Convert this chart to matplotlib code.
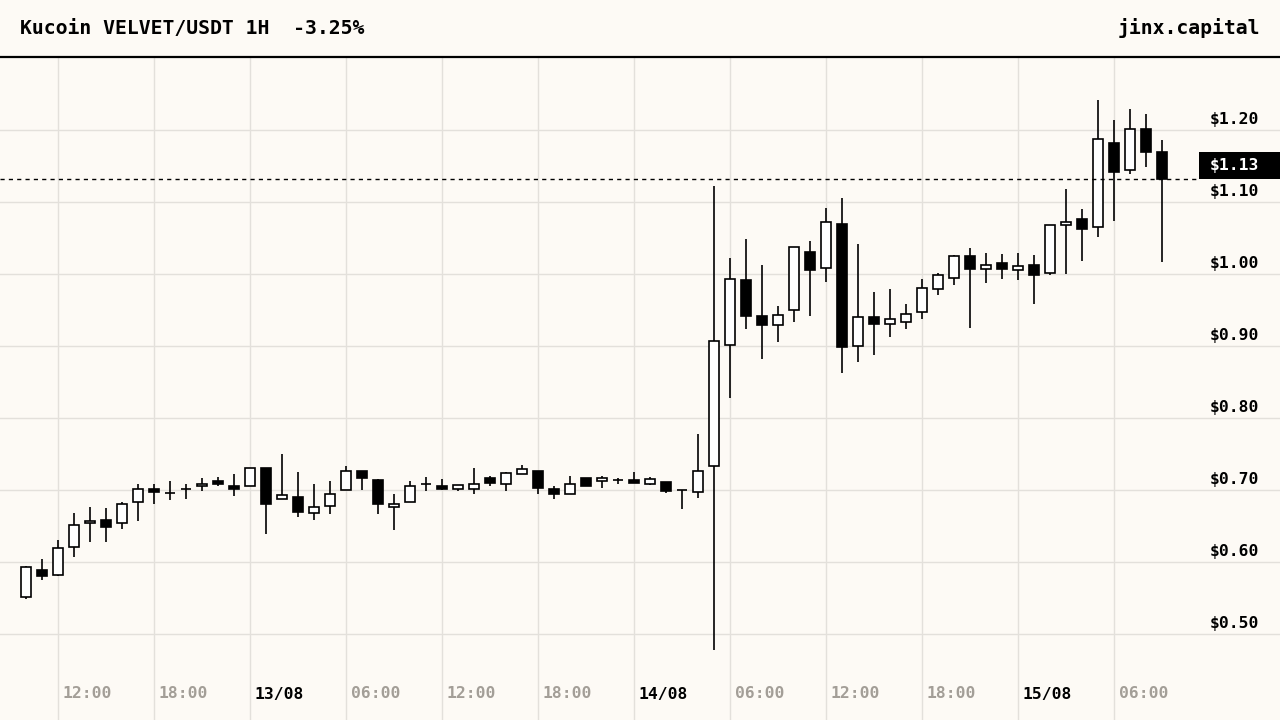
import matplotlib.pyplot as plt
import matplotlib.transforms as mtransforms
from matplotlib.patches import Rectangle
import pandas as pd

# hourly candles, Kucoin VELVET/USDT
start = "2024-08-12 10:00"
opens = [0.551, 0.589, 0.582, 0.621, 0.654, 0.658, 0.654, 0.683, 0.702, 0.6953,
         0.7009, 0.705, 0.712, 0.705, 0.705, 0.730, 0.688, 0.690, 0.668, 0.678,
         0.700, 0.726, 0.714, 0.676, 0.683, 0.7083, 0.705, 0.702, 0.702, 0.716,
         0.709, 0.722, 0.727, 0.702, 0.695, 0.716, 0.712, 0.7134, 0.7134, 0.708,
         0.711, 0.6995, 0.697, 0.734, 0.901, 0.991, 0.941, 0.929, 0.950, 1.031,
         1.008, 1.070, 0.8995, 0.940, 0.930, 0.934, 0.947, 0.979, 0.995, 1.0245,
         1.0065, 1.015, 1.006, 1.012, 1.001, 1.0676, 1.076, 1.065, 1.182, 1.144,
         1.201, 1.1695]
highs = [0.594, 0.604, 0.631, 0.668, 0.676, 0.675, 0.683, 0.708, 0.709, 0.712,
         0.708, 0.717, 0.718, 0.722, 0.731, 0.731, 0.750, 0.725, 0.708, 0.712,
         0.733, 0.726, 0.715, 0.694, 0.712, 0.718, 0.715, 0.7065, 0.731, 0.719,
         0.7245, 0.735, 0.727, 0.705, 0.720, 0.716, 0.720, 0.716, 0.7245, 0.718,
         0.711, 0.6995, 0.778, 1.122, 1.022, 1.049, 1.0125, 0.956, 1.037, 1.046,
         1.091, 1.105, 1.042, 0.9745, 0.979, 0.958, 0.993, 1.001, 1.026, 1.036,
         1.029, 1.028, 1.029, 1.026, 1.068, 1.118, 1.090, 1.242, 1.214, 1.229,
         1.222, 1.186]
lows = [0.549, 0.575, 0.581, 0.607, 0.628, 0.628, 0.646, 0.657, 0.680, 0.6865,
        0.688, 0.699, 0.706, 0.692, 0.705, 0.639, 0.687, 0.663, 0.659, 0.667,
        0.700, 0.700, 0.667, 0.645, 0.683, 0.698, 0.700, 0.698, 0.695, 0.705,
        0.699, 0.722, 0.695, 0.688, 0.695, 0.706, 0.703, 0.709, 0.710, 0.7065,
        0.696, 0.674, 0.689, 0.478, 0.828, 0.923, 0.882, 0.905, 0.934, 0.942,
        0.989, 0.862, 0.878, 0.887, 0.913, 0.923, 0.938, 0.971, 0.985, 0.9255,
        0.988, 0.9935, 0.991, 0.959, 0.998, 1.0005, 1.0185, 1.052, 1.073, 1.139,
        1.148, 1.017]
closes = [0.593, 0.581, 0.620, 0.652, 0.657, 0.649, 0.680, 0.702, 0.697, 0.6953,
          0.7009, 0.709, 0.709, 0.702, 0.731, 0.681, 0.693, 0.670, 0.676, 0.694,
          0.726, 0.717, 0.680, 0.680, 0.705, 0.7083, 0.702, 0.7065, 0.709, 0.710,
          0.723, 0.729, 0.703, 0.695, 0.709, 0.706, 0.716, 0.7134, 0.710, 0.715,
          0.698, 0.6995, 0.726, 0.9065, 0.993, 0.942, 0.929, 0.943, 1.037, 1.006,
          1.072, 0.899, 0.940, 0.930, 0.937, 0.944, 0.980, 0.998, 1.0245, 1.007,
          1.013, 1.0065, 1.011, 0.998, 1.068, 1.0718, 1.063, 1.188, 1.141, 1.202,
          1.170, 1.1315]
price_ticks = [0.50, 0.60, 0.70, 0.80, 0.90, 1.00, 1.10, 1.20]

title = "Kucoin VELVET/USDT 1H  -3.25%"
brand = "jinx.capital"

bg = "#fdfaf5"
grid_c = "#e3e0db"
time_c = "#a39e97"
font = ["DejaVu Sans Mono"]

times = pd.date_range(start, periods=len(opens), freq="h")
xs = list(range(len(opens)))

fig = plt.figure(figsize=(12.8, 7.2), dpi=100, facecolor=bg)
ax = fig.add_axes([0, 0, 1, 662 / 720])
ax.set_facecolor(bg)
for s in ax.spines.values():
    s.set_visible(False)
ax.set_xticks([])
ax.set_yticks([])
ax.set_xlim(-26 / 16, 1254 / 16)
ax.set_ylim(1.20 - 590 / 720, 1.30)

# grid
for p in price_ticks:
    ax.axhline(p, color=grid_c, lw=1, zorder=0)
xlab_tr = mtransforms.offset_copy(ax.get_xaxis_transform(), fig, x=5, units="dots")
for x, t in zip(xs, times):
    if t.hour % 6 == 0:
        ax.axvline(x, color=grid_c, lw=1, zorder=0)
        if t.hour == 0:
            txt, col = t.strftime("%d/%m"), "black"
        else:
            txt, col = t.strftime("%H:%M"), time_c
        ax.text(x, 26 / 662, txt, transform=xlab_tr, color=col, fontsize=11.8,
                fontweight="bold", family=font, ha="left", va="center")

# candles
ax.vlines(xs, lows, highs, color="black", lw=1.2, zorder=2)
for x, o, c in zip(xs, opens, closes):
    face = "white" if c >= o else "black"
    ax.bar(x, max(abs(c - o), 1e-5), width=0.68, bottom=min(o, c),
           facecolor=face, edgecolor="black", lw=1.2, zorder=3)

# price labels
ylab_tr = mtransforms.offset_copy(ax.get_yaxis_transform(), fig, y=3, units="dots")
for p in price_ticks:
    ax.text(1210 / 1280, p, f"${p:.2f}", transform=ylab_tr, fontsize=11.8,
            fontweight="bold", family=font, ha="left", va="bottom", color="black")

last = closes[-1]
ax.axhline(last, xmax=1200 / 1280, color="black", lw=1, ls=(0, (3, 3)), zorder=4)
ax.add_patch(Rectangle((1199 / 1280, last), 81 / 1280, 27 / 720,
                       transform=ax.get_yaxis_transform(), facecolor="black",
                       edgecolor="none", zorder=5, clip_on=False))
box_tr = mtransforms.offset_copy(ax.get_yaxis_transform(), fig, y=14, units="dots")
ax.text(1210 / 1280, last, f"${last:.2f}", transform=box_tr, fontsize=11.8,
        fontweight="bold", family=font, ha="left", va="center", color="white", zorder=6)

# header
fig.add_artist(plt.Line2D([0, 1], [1 - 57 / 720, 1 - 57 / 720], color="black", lw=1.6))
fig.text(20 / 1280, 1 - 28 / 720, title, fontsize=14.2, fontweight="bold",
         family=font, ha="left", va="center")
fig.text(1260 / 1280, 1 - 28 / 720, brand, fontsize=14.2, fontweight="bold",
         family=font, ha="right", va="center")

fig.savefig("out.png", dpi=100, facecolor=bg)
